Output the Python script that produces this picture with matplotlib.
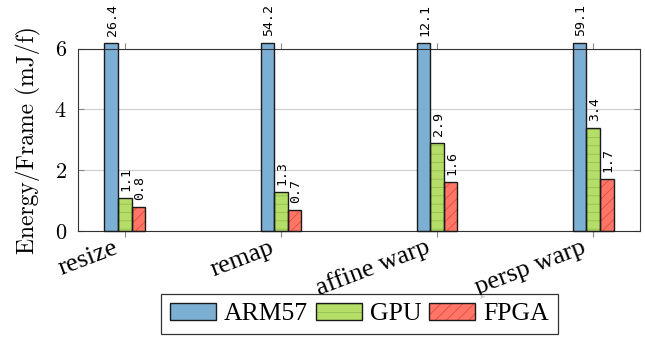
import matplotlib
matplotlib.use("Agg")
import matplotlib.pyplot as plt
import matplotlib.transforms as mtransforms
import numpy as np
from matplotlib.patches import Patch
from matplotlib.legend_handler import HandlerTuple

categories = ["resize", "remap", "affine warp", "persp warp"]
arm57 = [26.4, 54.2, 12.1, 59.1]
gpu = [1.1, 1.3, 2.9, 3.4]
fpga = [0.8, 0.7, 1.6, 1.7]
series_names = ["ARM57", "GPU", "FPGA"]

plt.rcParams['font.family'] = ['cmr10', 'DejaVu Serif']
plt.rcParams['axes.formatter.use_mathtext'] = True
plt.rcParams['hatch.linewidth'] = 0.5

fig = plt.figure(figsize=(6.45, 3.41), dpi=100)
ax = fig.add_axes([78/645, 1-231/341, (640-78)/645, (231-48.7)/341])

ymax = 6.0
clip_top = 6.18
x = np.arange(len(categories))
w = 0.087

face = ["#7BAFD4", "#B4DE68", "#FF7566"]
hatch_col = [None, "#8DB84C", "#D8453A"]
hatches = [None, "--", "///"]
data = [arm57, gpu, fpga]
offsets = [-w, 0, w]

handles = []
for i, (vals, off) in enumerate(zip(data, offsets)):
    shown = [min(v, clip_top) for v in vals]
    if hatches[i]:
        ax.bar(x + off, shown, w, color=face[i], edgecolor=hatch_col[i],
               hatch=hatches[i], linewidth=0, clip_on=False, zorder=2)
    else:
        ax.bar(x + off, shown, w, color=face[i], linewidth=0, clip_on=False, zorder=2)
    ax.bar(x + off, shown, w, fill=False, edgecolor="#1a1a1a", linewidth=1.0,
           clip_on=False, zorder=3)
    for xi, s, v in zip(x + off, shown, vals):
        ax.annotate(f"{v:.1f}", (xi, s), xytext=(0.8, 5), textcoords="offset points",
                    rotation=90, ha="center", va="bottom", fontsize=9.5,
                    family="DejaVu Sans Mono", annotation_clip=False)
    if hatches[i]:
        pf = Patch(facecolor=face[i], edgecolor=hatch_col[i], hatch=hatches[i], linewidth=0)
    else:
        pf = Patch(facecolor=face[i], linewidth=0)
    pe = Patch(fill=False, edgecolor="#1a1a1a", linewidth=1.0)
    handles.append((pf, pe))

ax.set_xlim(-0.3, 3.3)
ax.set_ylim(0, ymax)
ax.set_yticks([0, 2, 4, 6])
ax.set_xticks(x)
ax.tick_params(axis="y", direction="in", left=True, right=True, length=4, width=0.8,
               labelsize=16, pad=8, color="#888888")
ax.tick_params(axis="x", direction="out", bottom=True, top=True, length=4, width=0.8,
               pad=11.5, color="#888888")
ax.set_xticklabels(categories, rotation=21, ha="right", rotation_mode="anchor",
                   fontsize=19, family="Liberation Serif")
shift = mtransforms.ScaledTranslation(-6/100, 0, fig.dpi_scale_trans)
for lab in ax.get_xticklabels():
    lab.set_va("baseline")
    lab.set_transform(lab.get_transform() + shift)
ax.yaxis.grid(True, color="#cccccc", linewidth=0.8, zorder=0)
ax.set_axisbelow(True)
for sp in ax.spines.values():
    sp.set_linewidth(0.8)
    sp.set_color("#333333")
ax.set_ylabel("Energy/Frame (mJ/f)", fontsize=17, labelpad=10)

leg = fig.legend(handles, series_names, handler_map={tuple: HandlerTuple(ndivide=1)},
                 loc="upper center", bbox_to_anchor=(0.557, 0.137), ncol=3,
                 prop={"family": "Liberation Serif", "size": 18.5},
                 frameon=True, fancybox=False, edgecolor="black",
                 handlelength=1.8, handleheight=0.6, handletextpad=0.3,
                 columnspacing=0.3, borderpad=0.35, borderaxespad=0)
leg.get_frame().set_linewidth(0.9)

fig.savefig("out.png", dpi=100)
